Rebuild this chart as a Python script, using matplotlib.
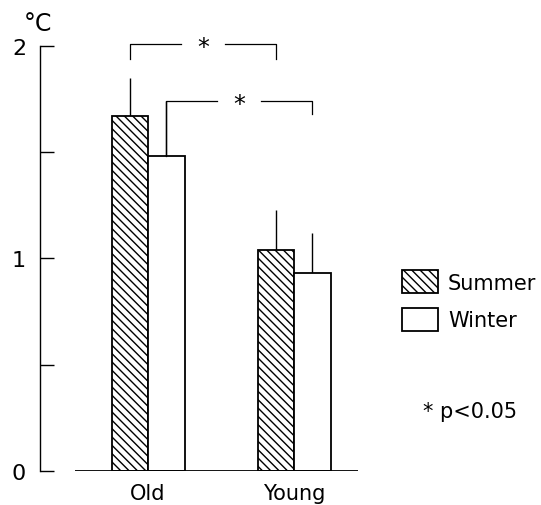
import matplotlib
matplotlib.use('Agg')
import matplotlib.pyplot as plt
import numpy as np

groups = ['Old', 'Young']
seasons = ['Summer', 'Winter']
summer = [1.67, 1.04]
winter = [1.48, 0.93]
summer_err = [0.18, 0.19]
winter_err = [0.26, 0.19]

# significance brackets: (season, top of bracket, left drop end, right drop end)
brackets = [('Summer', 2.01, 1.94, 1.94), ('Winter', 1.74, 1.48, 1.68)]

plt.rcParams['font.family'] = 'DejaVu Sans'
plt.rcParams['hatch.linewidth'] = 1.0

fig = plt.figure(figsize=(5.41, 5.06), dpi=100)
W, H = 541, 506
ax = fig.add_axes([40 / W, (H - 471.7) / H, 320 / W, (471.7 - 47) / H])

x = np.arange(len(groups))
w = 0.25
b1 = ax.bar(x - w / 2, summer, w, facecolor='white', edgecolor='black',
            linewidth=1.3, hatch='\\\\\\\\', label=seasons[0], zorder=2)
b2 = ax.bar(x + w / 2, winter, w, facecolor='white', edgecolor='black',
            linewidth=1.3, label=seasons[1], zorder=2)
ax.errorbar(x - w / 2, summer, yerr=[np.zeros(2), summer_err], fmt='none',
            ecolor='black', elinewidth=1, capsize=0, zorder=1)
ax.errorbar(x + w / 2, winter, yerr=[np.zeros(2), winter_err], fmt='none',
            ecolor='black', elinewidth=1, capsize=0, zorder=1)

ax.hlines(0, -0.5, 1.44, color='black', linewidth=1.3, zorder=3)

gap = 0.15
for season, top, yl, yr in brackets:
    off = -w / 2 if season == 'Summer' else w / 2
    x0, x1 = x[0] + off, x[1] + off
    mid = (x0 + x1) / 2
    ax.plot([x0, x0, mid - gap], [yl, top, top], color='black', lw=0.9, clip_on=False)
    ax.plot([mid + gap, x1, x1], [top, top, yr], color='black', lw=0.9, clip_on=False)
    ax.text(mid, top - 0.015, '*', ha='center', va='center', fontsize=17)

ax.set_xlim(-0.74, 1.452)
ax.set_ylim(0, 2)
ax.set_xticks(x, groups)
ax.set_yticks([0, 0.5, 1, 1.5, 2], ['0', '', '1', '', '2'])
ax.tick_params(axis='y', direction='in', length=10, width=1, pad=10, labelsize=16)
ax.tick_params(axis='x', length=0, pad=9, labelsize=15)
for s in ['top', 'right', 'bottom']:
    ax.spines[s].set_visible(False)
ax.spines['left'].set_linewidth(1)

fig.text(24 / W, 1 - 24 / H, '°C', ha='left', va='center', fontsize=17)

ax.legend(handles=[b1, b2], loc='upper left', bbox_to_anchor=(402 / W, 1 - 271 / H),
          bbox_transform=fig.transFigure, frameon=False, fontsize=15,
          handlelength=1.73, handleheight=1.35, handletextpad=0.48,
          labelspacing=0.68, borderpad=0, borderaxespad=0)

fig.text(423 / W, 1 - 412 / H, '* p<0.05', ha='left', va='center', fontsize=15)

fig.savefig('out.png', dpi=100)
